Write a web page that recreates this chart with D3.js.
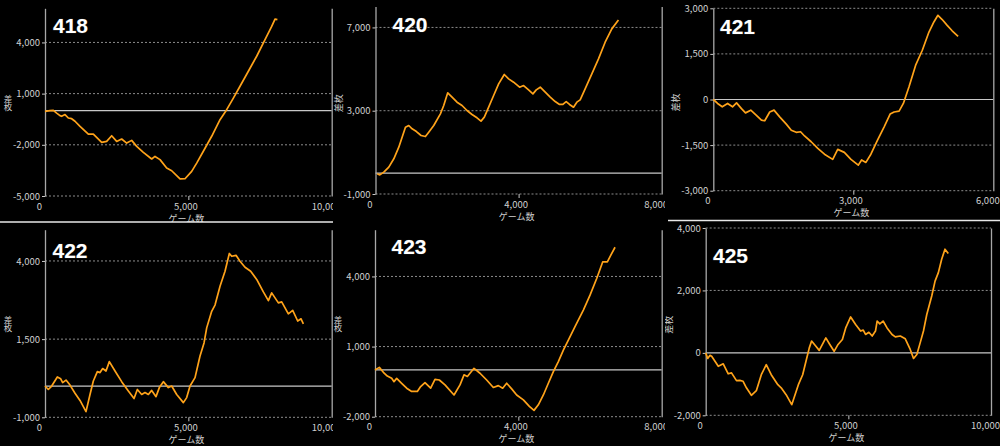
<!DOCTYPE html>
<html>
<head>
<meta charset="utf-8">
<script src="https://cdn.jsdelivr.net/npm/d3@7"></script>
<style>
  body { margin: 0; background: #000; }
  svg { display: block; }
</style>
</head>
<body>
<svg id="chart"></svg>
<script>
// machine numbers (titles)
const machines = ["418", "420", "421", "422", "423", "425"];

// games played (x) and coin difference (y) per machine
const games418 = [0,174,291,407,523,581,698,814,930,1047,1221,1512,1686,1977,2151,2326,2500,2674,2849,3023,3198,3430,3721,3837,4012,4244,4419,4709,4884,5116,5291,5523,5814,6105,6337,6570,6802,7093,7384,7674,7907,8023,8105];
const coins418 = [-40,0,20,-140,-290,-330,-230,-430,-470,-620,-920,-1370,-1370,-1860,-1800,-1470,-1800,-1660,-1900,-1740,-2090,-2440,-2830,-2680,-2870,-3360,-3520,-4000,-3990,-3560,-3070,-2380,-1500,-530,60,740,1430,2310,3190,4160,4940,5370,5340];

const games420 = [47,121,233,372,512,651,744,837,930,1023,1144,1274,1395,1488,1628,1814,1907,2019,2140,2279,2419,2558,2698,2837,2949,3042,3163,3302,3442,3600,3721,3860,4028,4140,4279,4400,4493,4605,4744,4884,5023,5144,5237,5330,5423,5535,5628,5721,5860,6047,6233,6419,6605,6791];
const coins420 = [-30,-80,50,290,690,1250,1730,2210,2290,2130,2000,1810,1760,1970,2290,2850,3250,3860,3650,3410,3250,3010,2820,2660,2500,2690,3170,3730,4290,4740,4530,4370,4130,4210,4000,3810,4000,4130,3890,3650,3440,3300,3300,3440,3300,3170,3410,3520,4050,4770,5490,6290,6930,7360];

const games421 = [0,92,192,306,412,498,604,690,803,924,1031,1102,1209,1301,1422,1564,1671,1777,1870,1955,2097,2239,2382,2559,2666,2808,2950,3107,3178,3270,3377,3519,3661,3789,3874,3981,4073,4194,4336,4479,4621,4727,4813,4905,5012,5118,5246];
const coins421 = [0,-130,-240,-130,-240,-110,-300,-440,-350,-520,-680,-700,-410,-350,-570,-810,-1010,-1080,-1060,-1200,-1390,-1610,-1800,-1970,-1640,-1740,-1970,-2160,-1990,-2070,-1800,-1340,-900,-480,-410,-380,-130,420,1130,1620,2220,2550,2770,2630,2440,2260,2080];

const games422 = [0,116,233,430,547,616,733,872,1047,1221,1430,1570,1686,1826,1919,2012,2128,2244,2442,2674,2907,3105,3221,3372,3488,3605,3721,3872,3988,4128,4302,4419,4593,4826,4942,5058,5233,5407,5547,5640,5814,5930,6105,6279,6430,6512,6663,6802,6977,7174,7384,7616,7791,7907,8140,8256,8488,8640,8814,8930,9012];
const coins422 = [0,-110,0,290,230,110,190,30,-230,-460,-820,-270,160,460,430,560,480,780,480,140,-160,-400,-110,-270,-210,-270,-140,-340,-50,140,-50,0,-270,-530,-370,0,270,960,1380,1860,2390,2590,3190,3670,4240,4150,4180,3990,3800,3670,3410,3010,2730,2980,2660,2690,2310,2420,2080,2150,1990];

const games423 = [0,121,233,344,465,530,605,744,884,1023,1181,1274,1395,1553,1674,1795,1953,2205,2372,2484,2577,2763,2930,3116,3302,3442,3563,3674,3814,3953,4140,4307,4437,4558,4698,4837,4977,5116,5256,5395,5581,5814,6000,6186,6353,6484,6577,6698];
const coins423 = [0,110,-100,-260,-360,-500,-360,-570,-780,-920,-920,-710,-540,-780,-400,-430,-640,-1070,-640,-210,-280,70,-140,-430,-750,-670,-780,-570,-810,-1070,-1280,-1560,-1730,-1490,-1070,-570,-70,360,850,1280,1850,2560,3200,3910,4620,4620,4900,5250];

const games425 = [0,70,151,209,325,441,615,789,905,1079,1195,1311,1427,1601,1775,1949,2123,2297,2529,2645,2819,3016,3132,3248,3399,3515,3631,3712,3863,3979,4211,4350,4501,4640,4791,4907,5081,5255,5429,5522,5603,5719,5835,5951,6009,6102,6218,6357,6531,6647,6821,6995,7169,7285,7401,7517,7633,7749,7923,8039,8155,8271,8387,8503];
const coins425 = [0,-180,-80,-110,-270,-430,-350,-670,-640,-890,-880,-910,-1120,-1360,-1210,-700,-380,-700,-1020,-1120,-1340,-1660,-1340,-1020,-700,-270,160,380,210,80,480,270,50,270,430,800,1150,910,700,730,590,660,540,700,1020,930,1020,800,590,510,540,450,110,-180,-50,320,700,1230,1820,2300,2570,3000,3320,3180];

// axis ranges and tick labels
const yDomains = [[-5000, 6000], [-1000, 8000], [-3000, 3000], [-1000, 5000], [-2000, 6000], [-2000, 4000]];
const yTickVals = [[-5000, -2000, 1000, 4000], [-1000, 3000, 7000], [-3000, -1500, 0, 1500, 3000],
                   [-1000, 1500, 4000], [-2000, 1000, 4000], [-2000, 0, 2000, 4000]];
const xMaxes = [10000, 8000, 6000, 10000, 8000, 10000];
const xTickVals = [[0, 5000, 10000], [0, 4000, 8000], [0, 3000, 6000], [0, 5000, 10000], [0, 4000, 8000], [0, 5000, 10000]];
const xTitle = "ゲーム数";
const yTitle = "差枚";

const gamesAll = [games418, games420, games421, games422, games423, games425];
const coinsAll = [coins418, coins420, coins421, coins422, coins423, coins425];

// where each screenshot sits in the collage
const layout = [
  {clip: [0, 0, 333, 222],     left: 45,    right: 331.7, top: 8.3,   bottom: 196,   tx: 53,    ty: 33,   upright: true},
  {clip: [333, 0, 332, 222],   left: 375.5, right: 661.7, top: 6.6,   bottom: 194,   tx: 392.5, ty: 32.3, upright: false},
  {clip: [665, 0, 335, 220.5], left: 713.3, right: 993.3, top: 8.3,   bottom: 190.7, tx: 720,   ty: 34,   upright: false},
  {clip: [0, 222, 333, 224],   left: 45,    right: 331.7, top: 229.7, bottom: 417.3, tx: 52.5,  ty: 258,  upright: true},
  {clip: [333, 222, 332, 224], left: 375,   right: 661.7, top: 229.7, bottom: 416.7, tx: 391.5, ty: 254,  upright: true},
  {clip: [665, 221, 335, 225], left: 705.7, right: 991,   top: 228,   bottom: 415.3, tx: 713,   ty: 263,  upright: false}
];

const width = 1000, height = 446;
const lineColor = "#ffa31a";
const textColor = "#d0d0d0";
const labelFont = "'Noto Sans CJK JP', 'Noto Sans', sans-serif";

const fmt = d3.formatLocale({decimal: ".", thousands: ",", grouping: [3], currency: ["", ""], minus: "-"}).format(",");

const svg = d3.select("#chart")
    .attr("width", width)
    .attr("height", height);

svg.append("rect")
    .attr("width", width)
    .attr("height", height)
    .attr("fill", "#000");

const defs = svg.append("defs");

machines.forEach(function(name, i) {
  const L = layout[i];

  defs.append("clipPath").attr("id", "clip" + i)
    .append("rect")
      .attr("x", L.clip[0]).attr("y", L.clip[1])
      .attr("width", L.clip[2]).attr("height", L.clip[3]);

  const g = svg.append("g").attr("clip-path", "url(#clip" + i + ")");

  const x = d3.scaleLinear().domain([0, xMaxes[i]]).range([L.left, L.right]);
  const y = d3.scaleLinear().domain(yDomains[i]).range([L.bottom, L.top]);

  // dotted grid lines
  g.selectAll(".grid")
    .data(yTickVals[i].filter(d => d !== 0))
    .enter().append("line")
      .attr("x1", L.left).attr("x2", L.right)
      .attr("y1", d => y(d)).attr("y2", d => y(d))
      .attr("stroke", "#8c8c8c")
      .attr("stroke-width", 1)
      .attr("stroke-dasharray", "2,2");

  // zero line
  g.append("line")
      .attr("x1", L.left).attr("x2", L.right)
      .attr("y1", y(0)).attr("y2", y(0))
      .attr("stroke", "#c8c8c8")
      .attr("stroke-width", 1.2);

  // left axis
  const yAxis = g.append("g")
      .attr("transform", "translate(" + L.left + ",0)")
      .call(d3.axisLeft(y).tickValues(yTickVals[i]).tickSize(3).tickSizeOuter(0).tickPadding(2).tickFormat(fmt));
  yAxis.select(".domain").attr("stroke", "#a8a8a8").attr("stroke-width", 1.3);
  yAxis.selectAll(".tick line").attr("stroke", "#c8c8c8");
  yAxis.selectAll("text")
      .attr("fill", textColor)
      .style("font-family", labelFont)
      .style("font-size", "9.5px");

  // right axis (plain line)
  const rAxis = g.append("g")
      .attr("transform", "translate(" + L.right + ",0)")
      .call(d3.axisRight(y).tickValues([]).tickSizeOuter(0));
  rAxis.select(".domain").attr("stroke", "#a8a8a8").attr("stroke-width", 1.3);

  // bottom axis: labels, middle tick only
  const xAxis = g.append("g")
      .attr("transform", "translate(0," + L.bottom + ")")
      .call(d3.axisBottom(x).tickValues(xTickVals[i]).tickSize(4).tickPadding(3).tickFormat(fmt));
  xAxis.select(".domain").remove();
  xAxis.selectAll(".tick line")
      .attr("stroke", "#c8c8c8")
      .attr("opacity", (d, k) => (k === 1 ? 1 : 0));
  xAxis.selectAll("text")
      .attr("fill", textColor)
      .attr("dx", (d, k) => (k === 1 ? -3 : -6))
      .style("font-family", labelFont)
      .style("font-size", "9.5px");

  // axis titles
  g.append("text")
      .attr("x", (L.left + L.right) / 2 - 2)
      .attr("y", L.bottom + 25.5)
      .attr("text-anchor", "middle")
      .attr("fill", textColor)
      .style("font-family", labelFont)
      .style("font-size", "9px")
      .text(xTitle);

  const midY = (L.top + L.bottom) / 2;
  if (L.upright) {
    // stacked vertically, characters upright
    g.append("text")
        .attr("x", L.left - 37)
        .attr("y", midY - 8)
        .attr("fill", textColor)
        .style("writing-mode", "vertical-rl")
        .style("text-orientation", "upright")
        .style("font-family", labelFont)
        .style("font-size", "8.5px")
        .text(yTitle);
  } else {
    g.append("text")
        .attr("transform", "translate(" + (L.left - 34) + "," + (midY + 3) + ") rotate(-90)")
        .attr("text-anchor", "middle")
        .attr("fill", textColor)
        .style("font-family", labelFont)
        .style("font-size", "9px")
        .text(yTitle);
  }

  // the series line
  const pts = gamesAll[i].map((gm, k) => ({games: gm, coins: coinsAll[i][k]}));
  g.append("path")
      .datum(pts)
      .attr("fill", "none")
      .attr("stroke", lineColor)
      .attr("stroke-width", 1.7)
      .attr("stroke-linejoin", "round")
      .attr("d", d3.line().x(d => x(d.games)).y(d => y(d.coins)));

  // machine number
  g.append("text")
      .attr("x", L.tx)
      .attr("y", L.ty)
      .attr("fill", "#fff")
      .attr("stroke", "#333")
      .attr("stroke-width", 0.6)
      .style("paint-order", "stroke")
      .style("font-family", "'Liberation Sans', Arial, sans-serif")
      .style("font-weight", 700)
      .style("font-size", "21px")
      .text(name);
});

// white separators between the screenshots
svg.append("line")
    .attr("x1", 0).attr("x2", 333)
    .attr("y1", 222).attr("y2", 222)
    .attr("stroke", "#e8e8e8").attr("stroke-width", 1.5);
svg.append("line")
    .attr("x1", 668).attr("x2", 1000)
    .attr("y1", 220.5).attr("y2", 220.5)
    .attr("stroke", "#e8e8e8").attr("stroke-width", 1.5);
</script>
</body>
</html>
